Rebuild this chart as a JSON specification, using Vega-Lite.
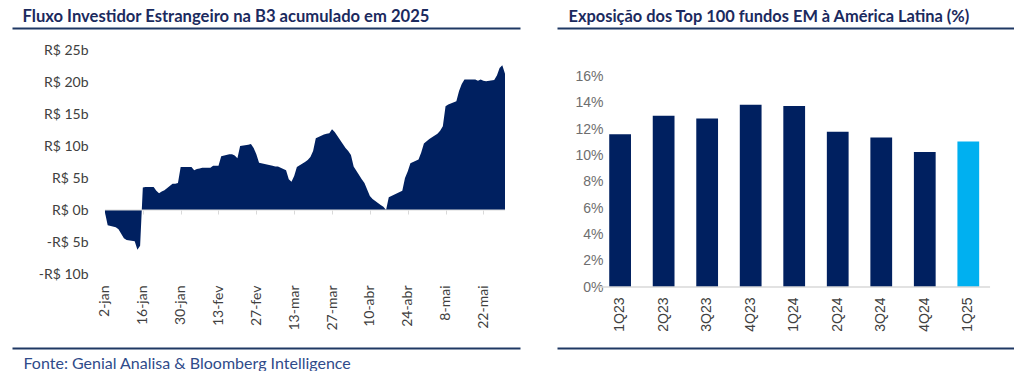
{
  "$schema": "https://vega.github.io/schema/vega-lite/v6.json",
  "background": "white",
  "padding": {"left": 12, "top": 8, "right": 0, "bottom": 0},
  "config": {"view": {"stroke": null}},
  "spacing": 37,
  "hconcat": [
    {
      "width": 508,
      "height": 224,
      "data": {"values": [
        {"d":"2025-01-02","v":-0.4},{"d":"2025-01-03","v":-2.4},{"d":"2025-01-06","v":-2.7},{"d":"2025-01-07","v":-3.0},{"d":"2025-01-08","v":-3.7},{"d":"2025-01-09","v":-4.4},{"d":"2025-01-10","v":-4.7},{"d":"2025-01-13","v":-4.9},{"d":"2025-01-14","v":-6.2},{"d":"2025-01-15","v":-5.6},{"d":"2025-01-16","v":3.5},{"d":"2025-01-17","v":3.6},{"d":"2025-01-20","v":3.6},{"d":"2025-01-21","v":3.0},{"d":"2025-01-22","v":2.6},{"d":"2025-01-23","v":2.9},{"d":"2025-01-24","v":3.1},{"d":"2025-01-27","v":4.1},{"d":"2025-01-28","v":4.1},{"d":"2025-01-29","v":4.2},{"d":"2025-01-30","v":6.7},{"d":"2025-01-31","v":6.7},
        {"d":"2025-02-03","v":6.7},{"d":"2025-02-04","v":6.2},{"d":"2025-02-05","v":6.4},{"d":"2025-02-06","v":6.5},{"d":"2025-02-07","v":6.6},{"d":"2025-02-10","v":6.6},{"d":"2025-02-11","v":6.9},{"d":"2025-02-12","v":6.9},{"d":"2025-02-13","v":6.9},{"d":"2025-02-14","v":8.4},{"d":"2025-02-17","v":8.7},{"d":"2025-02-18","v":8.7},{"d":"2025-02-19","v":8.5},{"d":"2025-02-20","v":8.1},{"d":"2025-02-21","v":10.0},{"d":"2025-02-24","v":10.2},{"d":"2025-02-25","v":10.3},{"d":"2025-02-26","v":9.7},{"d":"2025-02-27","v":8.7},{"d":"2025-02-28","v":7.4},
        {"d":"2025-03-05","v":6.9},{"d":"2025-03-06","v":6.8},{"d":"2025-03-07","v":6.8},{"d":"2025-03-10","v":6.2},{"d":"2025-03-11","v":4.8},{"d":"2025-03-12","v":4.4},{"d":"2025-03-13","v":5.3},{"d":"2025-03-14","v":6.7},{"d":"2025-03-17","v":7.5},{"d":"2025-03-18","v":7.8},{"d":"2025-03-19","v":8.3},{"d":"2025-03-20","v":9.2},{"d":"2025-03-21","v":11.2},{"d":"2025-03-24","v":11.8},{"d":"2025-03-25","v":11.9},{"d":"2025-03-26","v":12.0},{"d":"2025-03-27","v":12.6},{"d":"2025-03-28","v":12.2},{"d":"2025-03-31","v":10.3},
        {"d":"2025-04-01","v":9.7},{"d":"2025-04-02","v":9.2},{"d":"2025-04-03","v":8.6},{"d":"2025-04-04","v":6.8},{"d":"2025-04-07","v":4.8},{"d":"2025-04-08","v":4.2},{"d":"2025-04-09","v":3.2},{"d":"2025-04-10","v":2.2},{"d":"2025-04-11","v":1.7},{"d":"2025-04-14","v":0.8},{"d":"2025-04-15","v":0.5},{"d":"2025-04-16","v":0.0},{"d":"2025-04-17","v":2.0},{"d":"2025-04-22","v":3.0},{"d":"2025-04-23","v":5.0},{"d":"2025-04-24","v":6.0},{"d":"2025-04-25","v":7.3},{"d":"2025-04-28","v":7.9},{"d":"2025-04-29","v":9.0},{"d":"2025-04-30","v":10.4},
        {"d":"2025-05-02","v":11.1},{"d":"2025-05-05","v":11.9},{"d":"2025-05-06","v":12.4},{"d":"2025-05-07","v":13.1},{"d":"2025-05-08","v":16.2},{"d":"2025-05-09","v":16.5},{"d":"2025-05-12","v":17.0},{"d":"2025-05-13","v":18.6},{"d":"2025-05-14","v":19.7},{"d":"2025-05-15","v":20.4},{"d":"2025-05-16","v":20.4},{"d":"2025-05-19","v":20.4},{"d":"2025-05-20","v":20.2},{"d":"2025-05-21","v":20.4},{"d":"2025-05-22","v":20.2},{"d":"2025-05-23","v":20.1},{"d":"2025-05-26","v":20.3},{"d":"2025-05-27","v":21.0},{"d":"2025-05-28","v":22.2},{"d":"2025-05-29","v":22.6},{"d":"2025-05-30","v":21.3}
      ]},
      "resolve": {"axis": {"x": "independent", "y": "independent"}},
      "layer": [
        {
          "mark": {"type": "area", "color": "#002060"},
          "encoding": {
            "x": {
              "field": "d", "type": "temporal",
              "scale": {"type": "utc", "domain": [
                {"year": 2024, "month": 11, "date": 28, "hours": 14, "minutes": 24, "utc": true},
                {"year": 2025, "month": 6, "date": 4, "hours": 13, "minutes": 12, "utc": true}
              ]},
              "axis": {
                "orient": "bottom", "domain": false, "ticks": false, "grid": false,
                "labelAngle": -90, "labelPadding": 11, "labelFont": "Lato", "labelFontSize": 14,
                "labelColor": "#404040", "labelOverlap": false, "title": null,
                "values": [
                  {"year":2025,"month":1,"date":2,"utc":true},{"year":2025,"month":1,"date":16,"utc":true},{"year":2025,"month":1,"date":30,"utc":true},{"year":2025,"month":2,"date":13,"utc":true},{"year":2025,"month":2,"date":27,"utc":true},{"year":2025,"month":3,"date":13,"utc":true},{"year":2025,"month":3,"date":27,"utc":true},{"year":2025,"month":4,"date":10,"utc":true},{"year":2025,"month":4,"date":24,"utc":true},{"year":2025,"month":5,"date":8,"utc":true},{"year":2025,"month":5,"date":22,"utc":true}
                ],
                "labelExpr": "utcdate(datum.value) + '-' + ['jan','fev','mar','abr','mai','jun','jul','ago','set','out','nov','dez'][utcmonth(datum.value)]"
              }
            },
            "y": {
              "field": "v", "type": "quantitative", "stack": null,
              "scale": {"domain": [-10, 25]},
              "axis": {
                "orient": "left", "offset": -76, "domain": false, "ticks": false, "grid": false,
                "labelPadding": 0, "labelOverlap": false, "values": [-10, -5, 0, 5, 10, 15, 20, 25],
                "labelExpr": "datum.value < 0 ? '-R$ ' + (-datum.value) + 'b' : 'R$ ' + datum.value + 'b'",
                "labelFont": "Lato", "labelFontSize": 14, "labelColor": "#404040", "title": null
              }
            }
          }
        },
        {
          "data": {"values": [{}]},
          "mark": {"type": "rule", "color": "#d9d9d9", "strokeWidth": 1},
          "encoding": {
            "x": {
              "datum": {"year": 2025, "month": 1, "date": 2, "utc": true}, "type": "temporal",
              "axis": {
                "orient": "bottom", "offset": -64, "domain": false, "labels": false, "ticks": true,
                "tickSize": 4, "tickColor": "#d9d9d9", "grid": false, "title": null,
                "values": [
                  {"year":2025,"month":1,"date":2,"utc":true},{"year":2025,"month":1,"date":16,"utc":true},{"year":2025,"month":1,"date":30,"utc":true},{"year":2025,"month":2,"date":13,"utc":true},{"year":2025,"month":2,"date":27,"utc":true},{"year":2025,"month":3,"date":13,"utc":true},{"year":2025,"month":3,"date":27,"utc":true},{"year":2025,"month":4,"date":10,"utc":true},{"year":2025,"month":4,"date":24,"utc":true},{"year":2025,"month":5,"date":8,"utc":true},{"year":2025,"month":5,"date":22,"utc":true}
                ]
              }
            },
            "x2": {"datum": {"year": 2025, "month": 5, "date": 30, "utc": true}},
            "y": {"datum": 0, "type": "quantitative", "axis": null}
          }
        },
        {
          "data": {"values": [{}]},
          "mark": {"type": "rule", "opacity": 0},
          "encoding": {
            "x": {
              "datum": {"year": 2025, "month": 1, "date": 2, "utc": true}, "type": "temporal",
              "axis": {
                "orient": "top", "offset": 22, "domain": true, "domainColor": "#1f3864", "domainWidth": 2,
                "ticks": false, "labels": false, "grid": false,
                "title": "Fluxo Investidor Estrangeiro na B3 acumulado em 2025",
                "titleX": 10, "titleY": -7, "titleAlign": "left", "titleAnchor": "start", "titleBaseline": "alphabetic",
                "titleFont": "Lato", "titleFontSize": 16.6, "titleFontWeight": "bold", "titleColor": "#1b2a5e"
              }
            },
            "y": {"datum": 0, "type": "quantitative", "axis": null}
          }
        },
        {
          "data": {"values": [{}]},
          "mark": {"type": "rule", "opacity": 0},
          "encoding": {
            "x": {
              "datum": {"year": 2025, "month": 1, "date": 2, "utc": true}, "type": "temporal",
              "axis": {
                "orient": "bottom", "offset": 74, "domain": true, "domainColor": "#1f3864", "domainWidth": 2,
                "ticks": false, "labels": false, "grid": false,
                "title": "Fonte: Genial Analisa & Bloomberg Intelligence",
                "titleX": 11, "titleY": 7, "titleAlign": "left", "titleAnchor": "start", "titleBaseline": "top",
                "titleFont": "Lato", "titleFontSize": 16, "titleFontWeight": "normal", "titleColor": "#2f4b8a"
              }
            },
            "y": {"datum": 0, "type": "quantitative", "axis": null}
          }
        }
      ]
    },
    {
      "width": 457,
      "height": 237,
      "data": {"values": [
        {"q":"1Q23","v":11.6},{"q":"2Q23","v":13.0},{"q":"3Q23","v":12.8},{"q":"4Q23","v":13.85},{"q":"1Q24","v":13.75},{"q":"2Q24","v":11.8},{"q":"3Q24","v":11.35},{"q":"4Q24","v":10.25},{"q":"1Q25","v":11.05}
      ]},
      "resolve": {"axis": {"x": "independent", "y": "independent"}},
      "layer": [
        {
          "mark": {"type": "bar"},
          "encoding": {
            "x": {
              "field": "q", "type": "nominal", "sort": null,
              "scale": {"paddingInner": 0.5, "paddingOuter": 1.526, "align": 0.6},
              "axis": {
                "orient": "bottom", "domain": false, "ticks": false, "grid": false,
                "labelAngle": -90, "labelPadding": 10, "labelFont": "Liberation Sans", "labelFontSize": 14,
                "labelColor": "#404040", "title": null
              }
            },
            "y": {
              "field": "v", "type": "quantitative",
              "scale": {"domain": [0, 17.76]},
              "axis": {
                "orient": "left", "offset": -46, "domain": false, "ticks": false, "grid": false,
                "labelPadding": 0, "labelOverlap": false, "values": [0, 2, 4, 6, 8, 10, 12, 14, 16],
                "labelExpr": "datum.value + '%'",
                "labelFont": "Liberation Sans", "labelFontSize": 14, "labelColor": "#6e6e6e", "title": null
              }
            },
            "color": {"condition": {"test": "datum.q === '1Q25'", "value": "#00B0F0"}, "value": "#002060"}
          }
        },
        {
          "data": {"values": [{}]},
          "mark": {"type": "rule", "color": "#d9d9d9", "strokeWidth": 1.5},
          "encoding": {
            "x": {"datum": "1Q23", "type": "nominal", "bandPosition": -0.5, "axis": null},
            "x2": {"datum": "1Q25", "bandPosition": 1.5},
            "y": {"datum": 0, "type": "quantitative", "axis": null}
          }
        },
        {
          "data": {"values": [{}]},
          "mark": {"type": "rule", "opacity": 0},
          "encoding": {
            "x": {
              "datum": "1Q23", "type": "nominal",
              "axis": {
                "orient": "top", "offset": 22, "domain": true, "domainColor": "#1f3864", "domainWidth": 2,
                "ticks": false, "labels": false, "grid": false,
                "title": "Exposição dos Top 100 fundos EM à América Latina (%)",
                "titleX": 11, "titleY": -7, "titleAlign": "left", "titleAnchor": "start", "titleBaseline": "alphabetic",
                "titleFont": "Lato", "titleFontSize": 16.4, "titleFontWeight": "bold", "titleColor": "#1b2a5e"
              }
            },
            "y": {"datum": 0, "type": "quantitative", "axis": null}
          }
        },
        {
          "data": {"values": [{}]},
          "mark": {"type": "rule", "opacity": 0},
          "encoding": {
            "x": {
              "datum": "1Q23", "type": "nominal",
              "axis": {
                "orient": "bottom", "offset": 61, "domain": true, "domainColor": "#1f3864", "domainWidth": 2,
                "ticks": false, "labels": false, "grid": false, "title": null
              }
            },
            "y": {"datum": 0, "type": "quantitative", "axis": null}
          }
        }
      ]
    }
  ]
}
